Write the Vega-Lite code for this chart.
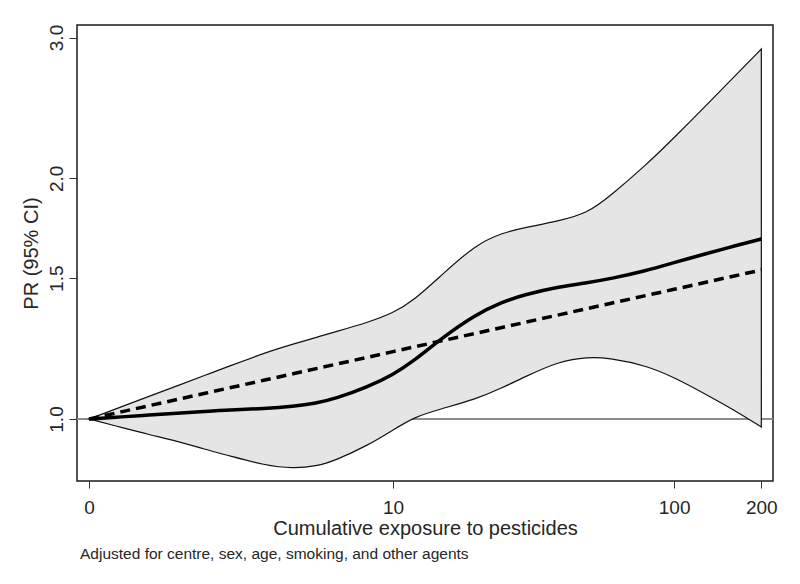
{
  "$schema": "https://vega.github.io/schema/vega-lite/v6.json",
  "autosize": "none",
  "width": 696,
  "height": 456,
  "padding": {"left": 77, "top": 25, "right": 27, "bottom": 103},
  "background": "white",
  "config": {
    "font": "Liberation Sans",
    "view": {"stroke": "#1a1a1a", "strokeWidth": 1.5},
    "axis": {
      "domain": false,
      "grid": false,
      "tickColor": "#333333",
      "tickWidth": 1,
      "labelColor": "#262626",
      "titleColor": "#262626",
      "labelFont": "Liberation Sans",
      "titleFont": "Liberation Sans",
      "labelFontSize": 19,
      "titleFontSize": 20,
      "titleFontWeight": "normal"
    }
  },
  "title": {
    "text": "Adjusted for centre, sex, age, smoking, and other agents",
    "orient": "bottom",
    "anchor": "start",
    "frame": "group",
    "fontSize": 15.5,
    "fontWeight": "normal",
    "font": "Liberation Sans",
    "color": "#262626",
    "offset": 9,
    "dx": 3
  },
  "data": {
    "values": [
      {"x": 0, "pr": 1.0, "lin": 1.0, "lo": 1.0, "hi": 1.0},
      {"x": 0.3, "pr": 1.0064, "lin": 1.0215, "lo": 0.9753, "hi": 1.0369},
      {"x": 0.6, "pr": 1.0113, "lin": 1.0388, "lo": 0.9561, "hi": 1.0669},
      {"x": 1, "pr": 1.0168, "lin": 1.0577, "lo": 0.9386, "hi": 1.1},
      {"x": 1.5, "pr": 1.0221, "lin": 1.0769, "lo": 0.9162, "hi": 1.1344},
      {"x": 2, "pr": 1.0265, "lin": 1.093, "lo": 0.9002, "hi": 1.1632},
      {"x": 3, "pr": 1.0305, "lin": 1.1187, "lo": 0.8749, "hi": 1.21},
      {"x": 4, "pr": 1.037, "lin": 1.1391, "lo": 0.8672, "hi": 1.2407},
      {"x": 5, "pr": 1.0466, "lin": 1.156, "lo": 0.8727, "hi": 1.2649},
      {"x": 6, "pr": 1.0605, "lin": 1.1706, "lo": 0.8879, "hi": 1.2858},
      {"x": 8, "pr": 1.0965, "lin": 1.1946, "lo": 0.9265, "hi": 1.3203},
      {"x": 10, "pr": 1.1361, "lin": 1.2142, "lo": 0.9688, "hi": 1.3561},
      {"x": 12, "pr": 1.1831, "lin": 1.2307, "lo": 1.0058, "hi": 1.4087},
      {"x": 15, "pr": 1.2589, "lin": 1.2516, "lo": 1.0292, "hi": 1.5095},
      {"x": 20, "pr": 1.3497, "lin": 1.2794, "lo": 1.0578, "hi": 1.6504},
      {"x": 25, "pr": 1.4006, "lin": 1.3017, "lo": 1.0934, "hi": 1.7094},
      {"x": 30, "pr": 1.4308, "lin": 1.3203, "lo": 1.1286, "hi": 1.7352},
      {"x": 40, "pr": 1.4637, "lin": 1.3506, "lo": 1.1818, "hi": 1.7695},
      {"x": 50, "pr": 1.4811, "lin": 1.3746, "lo": 1.1954, "hi": 1.8097},
      {"x": 60, "pr": 1.4972, "lin": 1.3947, "lo": 1.192, "hi": 1.9005},
      {"x": 80, "pr": 1.5325, "lin": 1.4271, "lo": 1.1665, "hi": 2.078},
      {"x": 100, "pr": 1.5691, "lin": 1.4527, "lo": 1.1276, "hi": 2.2477},
      {"x": 130, "pr": 1.6114, "lin": 1.4837, "lo": 1.0715, "hi": 2.4733},
      {"x": 160, "pr": 1.6443, "lin": 1.5087, "lo": 1.0277, "hi": 2.6717},
      {"x": 200, "pr": 1.6792, "lin": 1.5357, "lo": 0.9772, "hi": 2.9018}
    ]
  },
  "encoding": {
    "x": {
      "field": "x",
      "type": "quantitative",
      "scale": {"type": "symlog", "constant": 1, "domain": [-0.1, 219.4], "nice": false, "zero": false},
      "axis": {
        "values": [0, 10, 100, 200],
        "format": "d",
        "title": "Cumulative exposure to pesticides",
        "tickSize": 7,
        "labelPadding": 10,
        "titlePadding": 1
      }
    }
  },
  "layer": [
    {
      "mark": {"type": "rule", "color": "#8c8c8c", "strokeWidth": 1},
      "encoding": {"x": null, "y": {"datum": 1, "type": "quantitative"}}
    },
    {
      "mark": {"type": "area", "interpolate": "basis", "fill": "#e5e5e5", "fillOpacity": 1, "stroke": "#111111", "strokeWidth": 1.2},
      "encoding": {
        "y": {
          "field": "lo",
          "type": "quantitative",
          "scale": {"type": "log", "domain": [0.8365, 3.11], "nice": false},
          "axis": {
            "values": [1, 1.5, 2, 3],
            "format": ".1f",
            "title": "PR (95% CI)",
            "labelAngle": -90,
            "labelAlign": "center",
            "labelBaseline": "alphabetic",
            "tickSize": 8,
            "labelPadding": 7,
            "titlePadding": 6
          }
        },
        "y2": {"field": "hi"}
      }
    },
    {
      "mark": {"type": "line", "color": "#000000", "strokeWidth": 3.5, "strokeDash": [10, 6]},
      "encoding": {"y": {"field": "lin", "type": "quantitative"}}
    },
    {
      "mark": {"type": "line", "interpolate": "basis", "color": "#000000", "strokeWidth": 3.5},
      "encoding": {"y": {"field": "pr", "type": "quantitative"}}
    }
  ]
}
